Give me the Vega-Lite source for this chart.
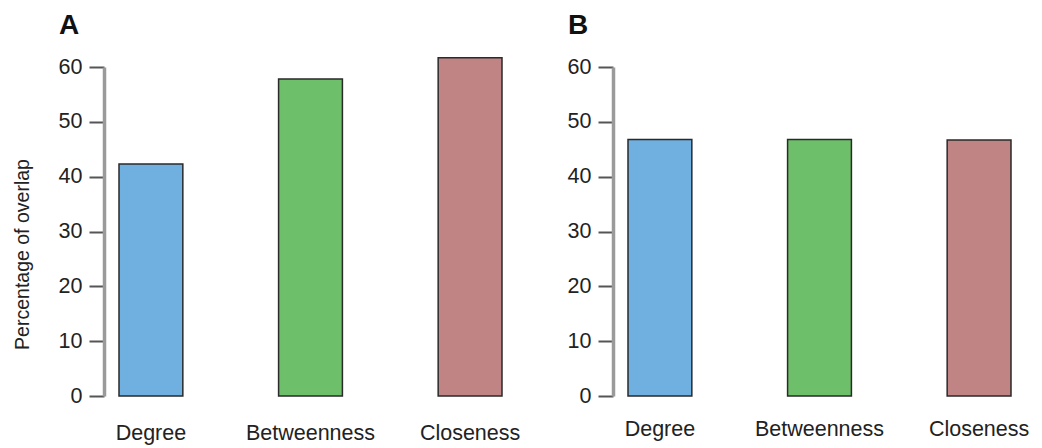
{
  "$schema": "https://vega.github.io/schema/vega-lite/v6.json",
  "padding": {"left": 12, "top": 12, "right": 5, "bottom": 5},
  "background": "white",
  "config": {
    "font": "Liberation Sans",
    "view": {"stroke": null},
    "axis": {"grid": false, "labelFont": "Liberation Sans", "titleFont": "Liberation Sans"},
    "title": {"font": "Liberation Sans", "fontSize": 28, "fontWeight": "bold", "anchor": "start", "frame": "group", "dx": -45, "color": "#111"}
  },
  "datasets": {
    "a": [
      {"measure": "Degree", "overlap": 42.3},
      {"measure": "Betweenness", "overlap": 57.8},
      {"measure": "Closeness", "overlap": 61.7}
    ],
    "b": [
      {"measure": "Degree", "overlap": 46.8},
      {"measure": "Betweenness", "overlap": 46.8},
      {"measure": "Closeness", "overlap": 46.7}
    ]
  },
  "spacing": 47,
  "hconcat": [
    {
      "title": {"text": "A", "offset": 16},
      "width": 413,
      "height": 329,
      "data": {"name": "a"},
      "mark": {"type": "bar", "clip": false, "stroke": "#2a2a2a", "strokeWidth": 1.5},
      "encoding": {
        "x": {
          "field": "measure", "type": "nominal", "sort": ["Degree", "Betweenness", "Closeness"],
          "scale": {"paddingInner": 0.6, "paddingOuter": 0.094},
          "axis": {"title": null, "domain": false, "ticks": false, "labelAngle": 0, "labelFontSize": 21.5, "labelColor": "#222", "labelPadding": 26}
        },
        "y": {
          "field": "overlap", "type": "quantitative",
          "scale": {"domain": [0, 60], "nice": false},
          "axis": {
            "title": "Percentage of overlap", "titleFontSize": 19.5, "titleFontWeight": "normal", "titleColor": "#222",
            "titleX": -91, "titleY": 187, "titleBaseline": "top", "titleAlign": "center", "titleAngle": -90,
            "values": [0, 10, 20, 30, 40, 50, 60],
            "domainColor": "#9a9a9a", "domainWidth": 3.5, "tickColor": "#555", "tickWidth": 2, "tickSize": 15,
            "labelFontSize": 21.5, "labelColor": "#222", "labelPadding": 7
          }
        },
        "color": {
          "field": "measure", "type": "nominal", "legend": null,
          "scale": {"domain": ["Degree", "Betweenness", "Closeness"], "range": ["#6FB0E0", "#6DC069", "#BF8483"]}
        }
      }
    },
    {
      "title": {"text": "B", "offset": 16},
      "width": 413,
      "height": 329,
      "data": {"name": "b"},
      "mark": {"type": "bar", "clip": false, "stroke": "#2a2a2a", "strokeWidth": 1.5},
      "encoding": {
        "x": {
          "field": "measure", "type": "nominal", "sort": ["Degree", "Betweenness", "Closeness"],
          "scale": {"paddingInner": 0.6, "paddingOuter": 0.094},
          "axis": {"title": null, "domain": false, "ticks": false, "labelAngle": 0, "labelFontSize": 21.5, "labelColor": "#222", "labelPadding": 22}
        },
        "y": {
          "field": "overlap", "type": "quantitative",
          "scale": {"domain": [0, 60], "nice": false},
          "axis": {
            "title": null,
            "values": [0, 10, 20, 30, 40, 50, 60],
            "domainColor": "#9a9a9a", "domainWidth": 3.5, "tickColor": "#555", "tickWidth": 2, "tickSize": 15,
            "labelFontSize": 21.5, "labelColor": "#222", "labelPadding": 7
          }
        },
        "color": {
          "field": "measure", "type": "nominal", "legend": null,
          "scale": {"domain": ["Degree", "Betweenness", "Closeness"], "range": ["#6FB0E0", "#6DC069", "#BF8483"]}
        }
      }
    }
  ]
}
